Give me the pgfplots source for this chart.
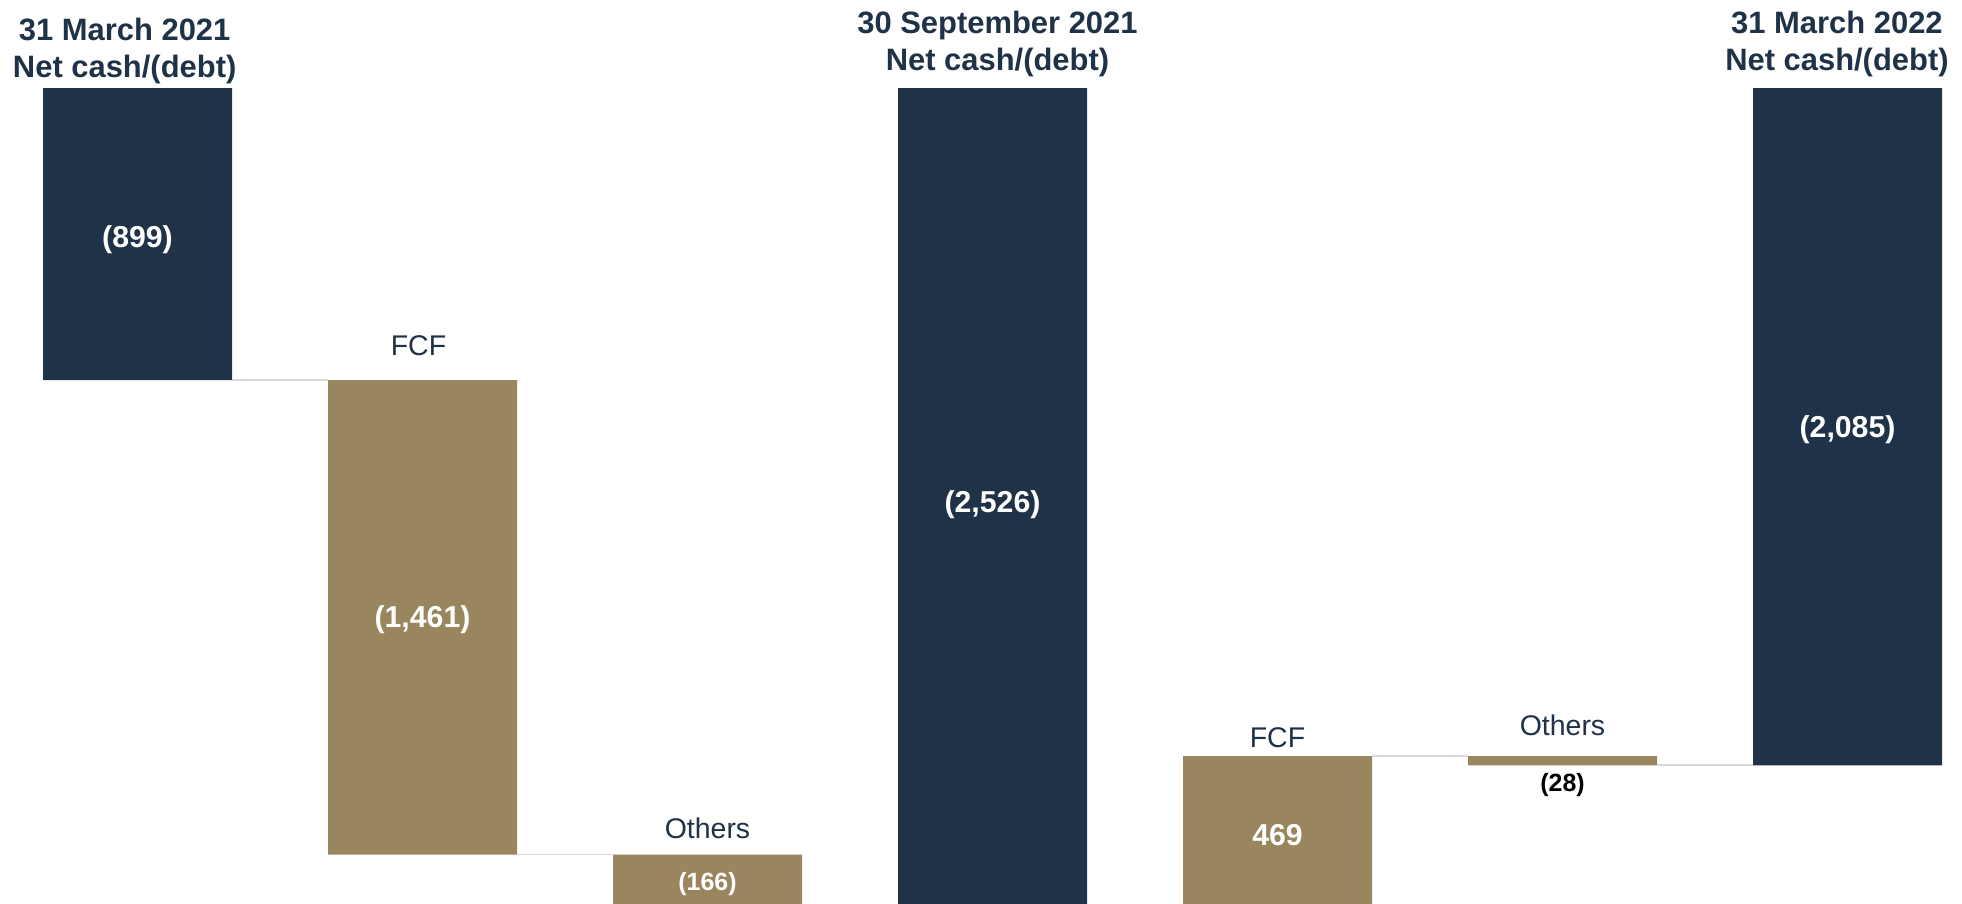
\documentclass[border=0pt]{standalone}
\usepackage{pgfplots}
\pgfplotsset{compat=1.18}
\usepackage{fontspec}
\setmainfont{Liberation Sans}
\definecolor{navy}{HTML}{1F3247}
\definecolor{tan}{HTML}{9A865E}
\definecolor{conn}{HTML}{D9D9D9}

\pgfplotsset{
  wf/.style={
    width=19.62cm, height=9.03cm, scale only axis,
    at={(0,0)}, anchor=south west,
    hide axis,
    xmin=-0.4825, xmax=6.4018,
    ymin=-2509, ymax=271,
    clip mode=individual,
    clip bounding box=upper bound,
  }
}

\begin{document}
\begin{tikzpicture}[
  ttl/.style={font=\fontsize{8.8}{10.6}\selectfont\bfseries, text=navy, inner sep=0pt, anchor=base},
  cat/.style={font=\fontsize{8.1}{9.7}\selectfont, text=navy, inner sep=0pt, anchor=base},
  val/.style={font=\fontsize{8.6}{10.3}\selectfont\bfseries, text=white, inner sep=0pt, anchor=base},
  sval/.style={font=\fontsize{7.1}{8.5}\selectfont\bfseries, text=white, inner sep=0pt, anchor=base},
]
% bars: invisible base + totals + movements
\begin{axis}[wf, ybar stacked, bar width=1.89cm]
  \addplot[draw=none, fill=none] coordinates {(0,0) (1,-899) (2,-2360) (3,0) (4,-2057) (5,-2057) (6,0)};
  \addplot[draw=none, fill=navy] coordinates {(0,-899) (1,0) (2,0) (3,-2526) (4,0) (5,0) (6,-2085)};
  \addplot[draw=none, fill=tan] coordinates {(0,0) (1,-1461) (2,-166) (3,0) (4,-469) (5,-28) (6,0)};
\end{axis}
% connector lines and labels
\begin{axis}[wf, unbounded coords=jump]
  \addplot[conn, line width=0.45pt, mark=none] coordinates {
    (0.3316,-899) (0.6684,-899) (1,nan)
    (1.3316,-2360) (1.6684,-2360) (2,nan)
    (4.3316,-2057) (4.6684,-2057) (5,nan)
    (5.3316,-2085) (5.6684,-2085)
  };

  \node[ttl] at (axis cs:-0.045,147.8) {31 March 2021};
  \node[ttl] at (axis cs:-0.045,33.9) {Net cash/(debt)};
  \node[ttl] at (axis cs:3.0175,168.4) {30 September 2021};
  \node[ttl] at (axis cs:3.0175,54) {Net cash/(debt)};
  \node[ttl] at (axis cs:5.963,168.4) {31 March 2022};
  \node[ttl] at (axis cs:5.963,54) {Net cash/(debt)};

  \node[cat] at (axis cs:0.986,-823.6) {FCF};
  \node[cat] at (axis cs:2,-2309) {Others};
  \node[cat] at (axis cs:4,-2029) {FCF};
  \node[cat] at (axis cs:5,-1992) {Others};

  \node[val] at (axis cs:0,-489.5) {(899)};
  \node[val] at (axis cs:1,-1659.5) {(1,461)};
  \node[sval] at (axis cs:2,-2469) {(166)};
  \node[val] at (axis cs:3,-1305.4) {(2,526)};
  \node[val] at (axis cs:4,-2330.6) {469};
  \node[sval, text=black] at (axis cs:5,-2164.5) {(28)};
  \node[val] at (axis cs:6,-1074.5) {(2,085)};
\end{axis}
\pgfresetboundingbox
\path[use as bounding box] (0,0) rectangle (19.62,9.03);
\end{tikzpicture}
\end{document}
